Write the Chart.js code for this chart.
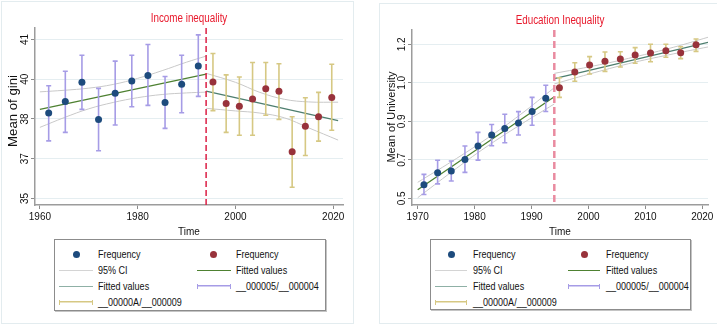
<!DOCTYPE html>
<html>
<head>
<meta charset="utf-8">
<script src="https://cdn.jsdelivr.net/npm/chart.js@4.4.1/dist/chart.umd.min.js"></script>
<style>
  body { margin: 0; background: #fff; width: 717px; height: 326px; position: relative; overflow: hidden;
         font-family: "Liberation Sans", Arial, sans-serif; }
  .frame { position: absolute; border: 1px solid #e3ecef; }
  .cv { position: absolute; top: 0; }
  .legend { position: absolute; border: 1px solid #8c8c8c; box-shadow: 1px 1px 0 #c4c4c4; background: #fff; }
  .item { position: absolute; font-size: 11px; color: #111; line-height: 12px; white-space: nowrap;
          transform: scaleX(0.82); transform-origin: left center; }
  .sym { position: absolute; }
</style>
</head>
<body>
<div class="frame" style="left:1px;top:1px;width:351px;height:321px"></div>
<div class="frame" style="left:379px;top:3px;width:340px;height:319px"></div>
<div class="cv" style="left:0;width:358px;height:238px"><canvas id="gini" width="358" height="238"></canvas></div>
<div class="cv" style="left:360px;width:357px;height:238px"><canvas id="uni" width="357" height="238"></canvas></div>

<script>
// ---- Income inequality (gini) ----
const giniYearsA = [1961.8, 1965.2, 1968.6, 1972.0, 1975.4, 1978.8, 1982.1, 1985.6, 1989.0, 1992.4];
const giniMeanA  = [38.22, 38.66, 39.38, 37.98, 38.97, 39.43, 39.64, 38.62, 39.31, 40.00];
const giniLoA    = [37.17, 37.49, 38.36, 36.80, 37.77, 38.46, 38.51, 37.64, 38.23, 38.85];
const giniHiA    = [39.25, 39.80, 40.40, 39.15, 40.18, 40.40, 40.81, 39.60, 40.40, 41.17];

const giniYearsB = [1995.4, 1998.1, 2000.8, 2003.5, 2006.2, 2008.9, 2011.6, 2014.3, 2017.0, 2019.7];
const giniMeanB  = [39.39, 38.58, 38.48, 38.75, 39.14, 39.04, 36.76, 37.72, 38.08, 38.81];
const giniLoB    = [38.31, 37.49, 37.38, 37.38, 38.14, 37.98, 35.42, 36.62, 37.16, 37.57];
const giniHiB    = [40.47, 39.66, 39.58, 40.13, 40.13, 40.08, 38.08, 38.80, 39.00, 40.06];

const giniFitYearsA = [1960, 1994];
const giniFitA      = [38.36, 39.69];
const giniFitYearsB = [1994, 2021];
const giniFitB      = [39.05, 37.93];

const giniCiYearsA = [1960, 1965, 1970, 1975, 1980, 1985, 1990, 1994];
const giniCiUpA    = [39.02, 39.08, 39.16, 39.30, 39.53, 39.82, 40.14, 40.37];
const giniCiLoA    = [37.68, 38.05, 38.38, 38.62, 38.80, 38.92, 38.98, 39.01];
const giniCiYearsB = [1994, 2000, 2005, 2010, 2015, 2021];
const giniCiUpB    = [39.72, 39.38, 39.00, 38.74, 38.64, 38.63];
const giniCiLoB    = [38.40, 38.30, 38.22, 38.04, 37.66, 37.20];

const giniTicks      = [35, 36.5, 38, 39.5, 41];
const giniTickLabels = ['35', '37', '38', '40', '41'];
const giniYearTicks  = [1960, 1980, 2000, 2020];

// ---- Education inequality (university) ----
const uniYearsA = [1971.1, 1973.5, 1975.9, 1978.3, 1980.6, 1983.0, 1985.3, 1987.7, 1990.1, 1992.5];
const uniMeanA  = [0.562, 0.616, 0.625, 0.677, 0.738, 0.788, 0.818, 0.842, 0.895, 0.955];
const uniLoA    = [0.518, 0.566, 0.579, 0.618, 0.674, 0.739, 0.753, 0.788, 0.832, 0.895];
const uniHiA    = [0.609, 0.673, 0.670, 0.738, 0.800, 0.836, 0.882, 0.894, 0.959, 1.014];

const uniYearsB = [1994.9, 1997.6, 2000.2, 2002.9, 2005.6, 2008.2, 2010.9, 2013.6, 2016.2, 2018.9];
const uniMeanB  = [1.003, 1.074, 1.106, 1.123, 1.133, 1.151, 1.160, 1.171, 1.162, 1.198];
const uniLoB    = [0.959, 1.032, 1.065, 1.077, 1.097, 1.114, 1.121, 1.141, 1.135, 1.168];
const uniHiB    = [1.048, 1.116, 1.144, 1.165, 1.166, 1.185, 1.200, 1.200, 1.189, 1.224];

const uniFitYearsA = [1970, 1994];
const uniFitA      = [0.539, 0.962];
const uniFitYearsB = [1994, 2021];
const uniFitB      = [1.044, 1.209];

const uniCiYearsA = [1970, 1976, 1982, 1988, 1994];
const uniCiUpA    = [0.573, 0.668, 0.769, 0.880, 1.003];
const uniCiLoA    = [0.503, 0.621, 0.733, 0.834, 0.929];
const uniCiYearsB = [1994, 2001, 2008, 2015, 2021];
const uniCiUpB    = [1.068, 1.102, 1.142, 1.187, 1.232];
const uniCiLoB    = [1.020, 1.071, 1.118, 1.157, 1.188];

const uniTicks      = [0.5, 0.675, 0.85, 1.025, 1.2];
const uniTickLabels = ['0.5', '0.7', '0.9', '1.0', '1.2'];
const uniYearTicks  = [1970, 1980, 1990, 2000, 2010, 2020];

const breakYear = 1994;
const legendLabels = ['Frequency', 'Frequency', '95% CI', 'Fitted values', 'Fitted values',
                      '__000005/__000004', '__00000A/__000009'];

// colours
const BLUE = '#1d4b7d', RED = '#98323b', CI = '#c9c9c9', GREEN = '#4e8131', TEAL = '#4d7e6e';
const PURPLE = '#a69ce6', YELLOW = '#d6c883';
const FONT = '"Liberation Sans", Arial, sans-serif';

const pts = (xs, ys) => xs.map((x, i) => ({ x: x, y: ys[i] }));

// panel settings, looked up by the plugin
const panels = {
  gini: { title: 'Income inequality', yTitle: 'Mean of gini', ticks: giniTicks, labels: giniTickLabels,
          tickX: 25.5, yTitleX: 13.5, yTitleY: 111, yTitleSize: 12, yTitleStretch: 1.1, titleY: 19,
          dash: { color: '#dc1f45', width: 1.5, pattern: [6, 3] } },
  uni:  { title: 'Education Inequality', yTitle: 'Mean of University', ticks: uniTicks, labels: uniTickLabels,
          tickX: 42, yTitleX: 31.5, yTitleY: 117, yTitleSize: 11, yTitleStretch: 1, titleY: 21,
          dash: { color: '#e98ba0', width: 2.5, pattern: [7, 4] } }
};

const stataBits = {
  id: 'stataBits',
  beforeDatasetDraw(chart, args) {
    const ds = chart.data.datasets[args.index];
    if (!ds.err) return;
    const ctx = chart.ctx, xs = chart.scales.x, ys = chart.scales.y;
    ctx.save();
    ctx.strokeStyle = ds.err.color;
    ctx.lineWidth = 1.6;
    ds.err.x.forEach((x, i) => {
      const px = xs.getPixelForValue(x);
      const top = ys.getPixelForValue(ds.err.hi[i]);
      const bot = ys.getPixelForValue(ds.err.lo[i]);
      ctx.beginPath();
      ctx.moveTo(px, top); ctx.lineTo(px, bot);
      ctx.moveTo(px - 2.5, top); ctx.lineTo(px + 2.5, top);
      ctx.moveTo(px - 2.5, bot); ctx.lineTo(px + 2.5, bot);
      ctx.stroke();
    });
    ctx.restore();
  },
  afterDatasetsDraw(chart) {
    const p = panels[chart.canvas.id];
    const ctx = chart.ctx, area = chart.chartArea;
    const px = chart.scales.x.getPixelForValue(breakYear);
    ctx.save();
    ctx.strokeStyle = p.dash.color;
    ctx.lineWidth = p.dash.width;
    ctx.setLineDash(p.dash.pattern);
    ctx.beginPath();
    ctx.moveTo(px, area.top); ctx.lineTo(px, area.bottom);
    ctx.stroke();
    ctx.restore();
  },
  afterDraw(chart) {
    const p = panels[chart.canvas.id];
    const ctx = chart.ctx, area = chart.chartArea, ys = chart.scales.y;
    ctx.save();
    // title, narrow look
    ctx.fillStyle = '#e8192c';
    ctx.font = '12px ' + FONT;
    ctx.textAlign = 'center';
    ctx.textBaseline = 'middle';
    ctx.save();
    ctx.translate((area.left + area.right) / 2, p.titleY);
    ctx.scale(0.82, 1);
    ctx.fillText(p.title, 0, 0);
    ctx.restore();
    // rotated y tick labels
    ctx.fillStyle = '#111';
    ctx.font = '10px ' + FONT;
    p.ticks.forEach((v, i) => {
      ctx.save();
      ctx.translate(p.tickX, ys.getPixelForValue(v));
      ctx.rotate(-Math.PI / 2);
      ctx.fillText(p.labels[i], 0, 0);
      ctx.restore();
    });
    // y title
    ctx.font = p.yTitleSize + 'px ' + FONT;
    ctx.translate(p.yTitleX, p.yTitleY);
    ctx.rotate(-Math.PI / 2);
    ctx.scale(p.yTitleStretch, 1);
    ctx.fillText(p.yTitle, 0, 0);
    ctx.restore();
  }
};

function makeChart(id, d) {
  return new Chart(document.getElementById(id), {
    type: 'scatter',
    data: {
      datasets: [
        { data: pts(d.yearsA, d.meanA), pointRadius: 3.5, pointBackgroundColor: BLUE, pointBorderWidth: 0,
          order: 0, err: { x: d.yearsA, lo: d.loA, hi: d.hiA, color: PURPLE } },
        { data: pts(d.yearsB, d.meanB), pointRadius: 3.5, pointBackgroundColor: RED, pointBorderWidth: 0,
          order: 0, err: { x: d.yearsB, lo: d.loB, hi: d.hiB, color: YELLOW } },
        { data: pts(d.fitYearsA, d.fitA), showLine: true, borderColor: GREEN, borderWidth: 1.3, pointRadius: 0, order: 1 },
        { data: pts(d.fitYearsB, d.fitB), showLine: true, borderColor: TEAL, borderWidth: 1.3, pointRadius: 0, order: 1 },
        { data: pts(d.ciYearsA, d.ciUpA), showLine: true, borderColor: CI, borderWidth: 1, pointRadius: 0, tension: 0.4, order: 2 },
        { data: pts(d.ciYearsA, d.ciLoA), showLine: true, borderColor: CI, borderWidth: 1, pointRadius: 0, tension: 0.4, order: 2 },
        { data: pts(d.ciYearsB, d.ciUpB), showLine: true, borderColor: CI, borderWidth: 1, pointRadius: 0, tension: 0.4, order: 2 },
        { data: pts(d.ciYearsB, d.ciLoB), showLine: true, borderColor: CI, borderWidth: 1, pointRadius: 0, tension: 0.4, order: 2 }
      ]
    },
    options: {
      responsive: false,
      animation: false,
      layout: { padding: { left: 0, right: d.padRight, top: d.padTop, bottom: 0 } },
      scales: {
        x: {
          type: 'linear', min: d.xMin, max: d.xMax,
          afterBuildTicks: s => { s.ticks = d.yearTicks.map(v => ({ value: v })); },
          afterFit: s => { s.height = 33; },
          grid: { drawOnChartArea: false, drawTicks: true, tickLength: 4, color: '#8c8c8c' },
          border: { color: '#9c9c9c', width: 1.5 },
          ticks: { autoSkip: false, maxRotation: 0, padding: 2, color: '#111', font: { family: FONT, size: 10 },
                   callback: v => String(v) },
          title: { display: true, text: 'Time', color: '#111', font: { family: FONT, size: 10 }, padding: { top: 0, bottom: 0 } }
        },
        y: {
          min: d.yMin, max: d.yMax,
          afterBuildTicks: s => { s.ticks = d.ticks.map(v => ({ value: v })); },
          afterFit: s => { s.width = d.yWidth; },
          grid: { color: '#e5eef1', tickColor: '#8c8c8c', tickLength: 4, drawTicks: true },
          border: { color: '#9c9c9c', width: 1.5 },
          ticks: { display: false }
        }
      },
      plugins: { legend: { display: false }, tooltip: { enabled: false } }
    },
    plugins: [stataBits]
  });
}

makeChart('gini', {
  yearsA: giniYearsA, meanA: giniMeanA, loA: giniLoA, hiA: giniHiA,
  yearsB: giniYearsB, meanB: giniMeanB, loB: giniLoB, hiB: giniHiB,
  fitYearsA: giniFitYearsA, fitA: giniFitA, fitYearsB: giniFitYearsB, fitB: giniFitB,
  ciYearsA: giniCiYearsA, ciUpA: giniCiUpA, ciLoA: giniCiLoA,
  ciYearsB: giniCiYearsB, ciUpB: giniCiUpB, ciLoB: giniCiLoB,
  ticks: giniTicks, yearTicks: giniYearTicks,
  xMin: 1959, xMax: 2022, yMin: 34.75, yMax: 41.43, yWidth: 35, padRight: 15, padTop: 28
});

makeChart('uni', {
  yearsA: uniYearsA, meanA: uniMeanA, loA: uniLoA, hiA: uniHiA,
  yearsB: uniYearsB, meanB: uniMeanB, loB: uniLoB, hiB: uniHiB,
  fitYearsA: uniFitYearsA, fitA: uniFitA, fitYearsB: uniFitYearsB, fitB: uniFitB,
  ciYearsA: uniCiYearsA, ciUpA: uniCiUpA, ciLoA: uniCiLoA,
  ciYearsB: uniCiYearsB, ciUpB: uniCiUpB, ciLoB: uniCiLoB,
  ticks: uniTicks, yearTicks: uniYearTicks,
  xMin: 1969, xMax: 2021, yMin: 0.47, yMax: 1.265, yWidth: 52, padRight: 9, padTop: 30
});

// legends (two columns, Stata style)
const legendSyms = [
  { kind: 'dot', color: BLUE }, { kind: 'dot', color: RED },
  { kind: 'line', color: '#d4d4d4' }, { kind: 'line', color: GREEN },
  { kind: 'line', color: '#8fb0a6' }, { kind: 'cap', color: PURPLE },
  { kind: 'cap', color: YELLOW }
];

function buildLegend(box) {
  const lg = document.createElement('div');
  lg.className = 'legend';
  Object.assign(lg.style, { left: box.left + 'px', top: box.top + 'px', width: box.w + 'px', height: box.h + 'px' });
  legendLabels.forEach((label, i) => {
    const col = i % 2, row = Math.floor(i / 2);
    const cy = 14 + row * 16;
    const s = legendSyms[i];
    const sym = document.createElement('div');
    sym.className = 'sym';
    if (s.kind === 'dot') {
      Object.assign(sym.style, { left: (box.sym[col] - 3.5) + 'px', top: (cy - 3.5) + 'px', width: '7px', height: '7px',
                                 borderRadius: '50%', background: s.color });
    } else {
      Object.assign(sym.style, { left: (box.sym[col] - box.half) + 'px', top: (cy - 0.5) + 'px', width: (2 * box.half) + 'px',
                                 height: '0', borderTop: '1.5px solid ' + s.color });
      if (s.kind === 'cap') {
        Object.assign(sym.style, { top: (cy - 2.5) + 'px', height: '5px', borderTop: 'none',
          background: 'linear-gradient(' + s.color + ',' + s.color + ') center/100% 1.5px no-repeat',
          borderLeft: '1.2px solid ' + s.color, borderRight: '1.2px solid ' + s.color, boxSizing: 'border-box' });
      }
    }
    lg.appendChild(sym);
    const t = document.createElement('div');
    t.className = 'item';
    t.textContent = label;
    Object.assign(t.style, { left: box.text[col] + 'px', top: (cy - 6) + 'px' });
    lg.appendChild(t);
  });
  document.body.appendChild(lg);
}

buildLegend({ left: 54, top: 239, w: 270, h: 70, sym: [21, 158.5], half: 17, text: [42.5, 181] });
buildLegend({ left: 430, top: 239, w: 259, h: 69, sym: [20, 153], half: 16, text: [41.5, 174.5] });
</script>
</body>
</html>
